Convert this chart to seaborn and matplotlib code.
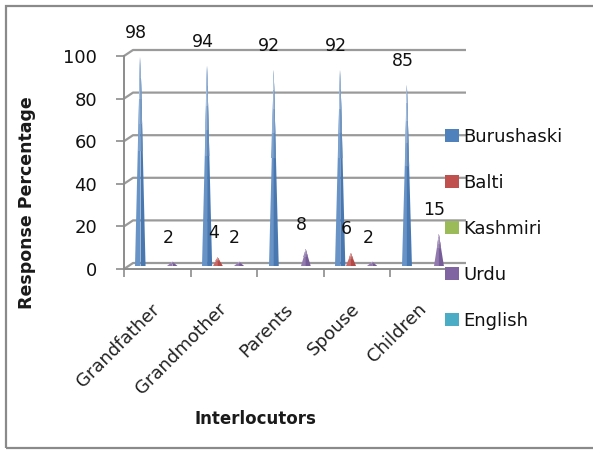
import matplotlib
matplotlib.use("Agg")
import matplotlib.pyplot as plt
import matplotlib.transforms as mtransforms
from matplotlib.patches import Polygon, Patch, Rectangle
from matplotlib.colors import to_rgb
import numpy as np
import pandas as pd
import seaborn as sns

# ---- data -------------------------------------------------------------
interlocutors = ["Grandfather", "Grandmother", "Parents", "Spouse", "Children"]
languages = ["Burushaski", "Balti", "Kashmiri", "Urdu", "English"]
burushaski = [98, 94, 92, 92, 85]
balti = [0, 4, 0, 6, 0]
kashmiri = [0, 0, 0, 0, 0]
urdu = [2, 2, 8, 2, 15]
english = [0, 0, 0, 0, 0]
y_ticks = [0, 20, 40, 60, 80, 100]

colors = ["#4F81BD", "#C0504D", "#9BBB59", "#8064A2", "#4BACC6"]

series = [burushaski, balti, kashmiri, urdu, english]
df = pd.DataFrame({
    "Interlocutor": [c for s in series for c in interlocutors],
    "Language": [lang for lang, s in zip(languages, series) for _ in s],
    "Percent": [v for s in series for v in s],
})

# ---- style ------------------------------------------------------------
sns.set_style("white")
plt.rcParams["font.family"] = ["DejaVu Sans"]
GRID = "#9a9a9a"
AXC = "#8c8c8c"

fig = plt.figure(figsize=(5.93, 4.50), dpi=100)
L, R, B, T = 124, 457, 269, 56
ax = fig.add_axes([L / 593, (450 - B) / 450, (R - L) / 593, (B - T) / 450])

sns.barplot(data=df, x="Interlocutor", y="Percent", hue="Language",
            order=interlocutors, hue_order=languages, palette=colors,
            width=0.8, gap=0, dodge=True, errorbar=None, legend=False, ax=ax)

ax.set_xlim(-0.5, len(interlocutors) - 0.5)
ax.set_ylim(0, 100)

# depth offset of the back wall (pixels) and of the cones (half way in)
px_per_cat = (R - L) / len(interlocutors)
px_per_unit = (B - T) / 100
wall_dx, wall_dy = 9, 6
dx_data = wall_dx / px_per_cat
dy_data = wall_dy / px_per_unit

# back-wall gridlines with a short diagonal joining the front axis
x0, x1 = ax.get_xlim()
for v in y_ticks:
    ax.plot([x0, x0 + dx_data, x1 + dx_data], [v, v + dy_data, v + dy_data],
            color=GRID, lw=1.6, clip_on=False, zorder=1,
            solid_capstyle="butt")

# cones built from the bar geometry
cone_shift = mtransforms.ScaledTranslation(wall_dx / 2 / 100, wall_dy / 2 / 100,
                                           fig.dpi_scale_trans)
cone_trans = ax.transData + cone_shift


def mix(c, other, t):
    c = np.array(to_rgb(c))
    o = np.array(to_rgb(other))
    return tuple(c * (1 - t) + o * t)


# nested tip triangles give a pale highlight towards the apex
tip_levels = [(0.0, 0.0), (0.55, 0.15), (0.68, 0.3), (0.8, 0.45), (0.9, 0.6)]
for container, lang, base in zip(ax.containers, languages, colors):
    for bar in container:
        h = bar.get_height()
        bar.set_visible(False)
        if h <= 0:
            continue
        w = bar.get_width() * 0.95
        cx = bar.get_x() + bar.get_width() / 2
        for k, (start, light) in enumerate(tip_levels):
            y0 = h * start
            hw = w / 2 * (1 - start)
            left_c = mix(mix(base, "white", 0.14), "white", light)
            right_c = mix(mix(base, "black", 0.07), "white", light * 0.85)
            for pts, col in (
                ([(cx - hw, y0), (cx, y0), (cx, h)], left_c),
                ([(cx, y0), (cx + hw, y0), (cx, h)], right_c),
            ):
                ax.add_patch(Polygon(pts, closed=True, facecolor=col,
                                     edgecolor="none", lw=0,
                                     transform=cone_trans, zorder=3 + k * 0.01,
                                     clip_on=False))
        ax.annotate(f"{h:g}", xy=(cx, h), xytext=(0, 27),
                    textcoords="offset pixels", ha="center", va="center",
                    fontsize=12.5, color="#111111", zorder=5)

# ---- axes -------------------------------------------------------------
for side in ("top", "right"):
    ax.spines[side].set_visible(False)
for side in ("left", "bottom"):
    ax.spines[side].set_color(AXC)
    ax.spines[side].set_linewidth(1.4)

ax.set_yticks(y_ticks)
ax.tick_params(axis="y", length=6, width=1.2, color=AXC, pad=13.5,
               labelsize=13, labelcolor="#111111", left=True)

ax.set_xticks(range(len(interlocutors)))
ax.set_xticks(np.arange(-0.5, len(interlocutors)), minor=True)
ax.tick_params(axis="x", which="major", length=0, pad=27, labelsize=13,
               labelcolor="#222222")
ax.tick_params(axis="x", which="minor", length=6, width=1.2, color=AXC,
               bottom=True)
ax.set_xticklabels(interlocutors, rotation=45, ha="right",
                   rotation_mode="anchor", va="center")

ax.set_ylabel("Response Percentage", fontsize=12.5, fontweight="bold",
              color="#1a1a1a")
ax.yaxis.set_label_coords((36 - L) / (R - L), (B - 203) / (B - T))
ax.set_xlabel("Interlocutors", fontsize=12, fontweight="bold",
              color="#1a1a1a")
ax.xaxis.set_label_coords((255 - L) / (R - L), (B - 410) / (B - T))

handles = [Patch(facecolor=c, edgecolor="none", label=l)
           for c, l in zip(colors, languages)]
leg = fig.legend(handles=handles, loc="upper left",
                 bbox_to_anchor=(445 / 593, 1 - 128 / 450),
                 frameon=False, fontsize=13, handlelength=0.75,
                 handleheight=0.75, handletextpad=0.25, labelspacing=1.55,
                 borderpad=0, borderaxespad=0)
for txt in leg.get_texts():
    txt.set_color("#111111")

# outer chart frame
fig.patches.append(Rectangle((6 / 593, 2 / 450), 600 / 593, 442 / 450,
                             transform=fig.transFigure, fill=False,
                             edgecolor="#8a8a8a", lw=1.6))

fig.savefig("out.png", dpi=100)
